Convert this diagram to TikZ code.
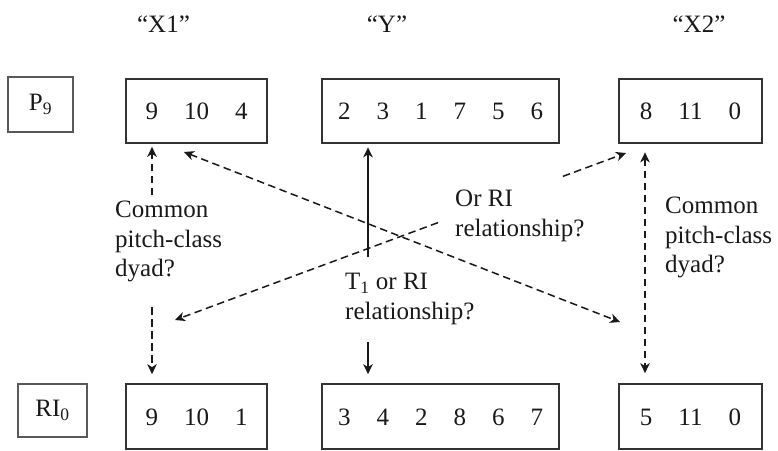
\documentclass[tikz,border=0pt]{standalone}
\usepackage{fontspec}
\setmainfont{Liberation Serif}
\usetikzlibrary{arrows.meta,calc}
\begin{document}
\begin{tikzpicture}[x=1pt,y=-1pt,
  every node/.style={font=\fontsize{25}{29.5}\selectfont, text=black!90},
  numbox/.style={draw=black!80, line width=1.7pt, minimum height=64pt, inner sep=0pt, text height=17pt, text depth=0pt},
  rowbox/.style={draw=black!65, line width=1.7pt, inner sep=0pt},
  lbl/.style={inner sep=0pt, anchor=north west, align=left},
  tip/.style={-{Stealth[length=10pt,width=9.5pt,inset=3pt]}},
  dtip/.style={{Stealth[length=10pt,width=9.5pt,inset=3pt]}-{Stealth[length=10pt,width=9.5pt,inset=3pt]}},
  dashline/.style={line width=1.5pt, draw=black!90, dash pattern=on 7.5pt off 4.5pt},
  solidline/.style={line width=1.5pt, draw=black!90}
]
\useasboundingbox (0,0) rectangle (778,450);
\def\gap{\hspace{26pt}}
% headings
\node[anchor=base, inner sep=0pt] (hX1) at (163.5,32) {“X1”};
\node[anchor=base, inner sep=0pt] (hY) at (387,32) {“Y”};
\node[anchor=base, inner sep=0pt] (hX2) at (699,32) {“X2”};
% row labels
\node[rowbox, minimum width=65pt, minimum height=55pt] (P) at (40.5,104.5) {P\textsubscript{9}};
\node[rowbox, minimum width=69pt, minimum height=53pt] (RI) at (52.5,410.5) {RI\textsubscript{0}};
% top boxes
\node[numbox, minimum width=141pt] (X1t) at (196.5,111) {9\gap 10\gap 4};
\node[numbox, minimum width=237pt] (Yt) at (440.5,111) {2\gap 3\gap 1\gap 7\gap 5\gap 6};
\node[numbox, minimum width=143pt] (X2t) at (690.5,111) {8\gap 11\gap 0};
% bottom boxes
\node[numbox, minimum width=141pt, minimum height=65pt] (X1b) at (196.5,416.5) {9\gap 10\gap 1};
\node[numbox, minimum width=237pt, minimum height=65pt] (Yb) at (440.5,416.5) {3\gap 4\gap 2\gap 8\gap 6\gap 7};
\node[numbox, minimum width=143pt, minimum height=65pt] (X2b) at (690.5,416.5) {5\gap 11\gap 0};
% coordinates
\coordinate (c1) at (152,195);
\coordinate (c2) at (152,307);
\coordinate (c3) at (368,257);
\coordinate (c4) at (368,342);
\coordinate (d1) at (184,152);
\coordinate (d2) at (620,322);
\coordinate (e1) at (626,153);
\coordinate (e2) at (175,320);
\coordinate (e3) at ($(e1)!0.14!(e2)$);
\coordinate (e4) at ($(e1)!0.417!(e2)$);
% connectors
\draw[dashline, tip, shorten >=3pt] (c1) -- (c1 |- X1t.south);
\draw[dashline, tip, shorten >=9pt] (c2) -- (c2 |- X1b.north);
\draw[solidline, tip, shorten >=3.5pt] (c3) -- (c3 |- Yt.south);
\draw[solidline, tip, shorten >=9pt] (c4) -- (c4 |- Yb.north);
\draw[dashline, dtip, shorten <=8.5pt, shorten >=10pt] (X2t.south -| 645,0) -- (X2b.north -| 645,0);
\draw[dashline, dtip] (d1) -- (d2);
\draw[dashline, tip] (e3) -- (e1);
\draw[dashline, tip] (e4) -- (e2);
% labels
\node[lbl] (t1) at (115,201) {Common\\pitch-class\\dyad?};
\node[lbl] (t2) at (665,197) {Common\\pitch-class\\dyad?};
\node[lbl] (t3) at (345,273) {T\textsubscript{1} or RI\\relationship?};
\node[lbl] (t4) at (455,190) {Or RI\\relationship?};
\end{tikzpicture}
\end{document}
